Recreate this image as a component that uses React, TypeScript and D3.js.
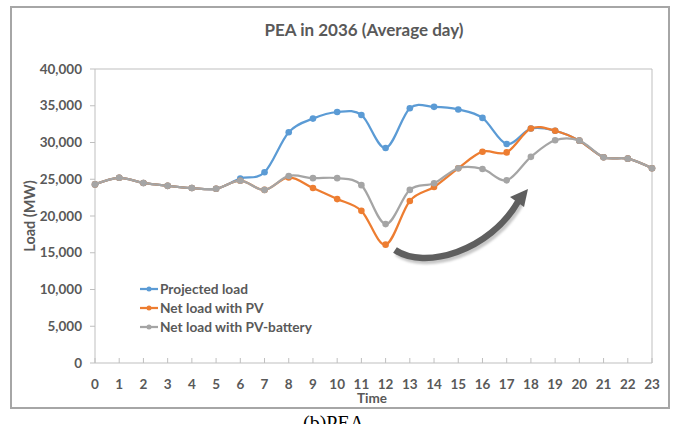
import * as d3 from "d3";

const hours = d3.range(0, 24);
const yTicks = [0, 5000, 10000, 15000, 20000, 25000, 30000, 35000, 40000];

const projectedLoad = [24300, 25200, 24500, 24100, 23800, 23700, 25100, 25950, 31400, 33250, 34150, 33750, 29250, 34650, 34850, 34500, 33350, 29800, 31900, 31600, 30250, 28000, 27800, 26500];
const netLoadPV = [24300, 25200, 24500, 24100, 23800, 23700, 24800, 23550, 25250, 23800, 22300, 20700, 16100, 22050, 23950, 26500, 28750, 28650, 31900, 31600, 30250, 28000, 27800, 26500];
const netLoadPVBattery = [24300, 25200, 24500, 24100, 23800, 23700, 24800, 23550, 25450, 25150, 25150, 24200, 18900, 23550, 24450, 26500, 26400, 24850, 28050, 30300, 30250, 28000, 27800, 26500];

const seriesNames = ["Projected load", "Net load with PV", "Net load with PV-battery"];
const seriesColors = ["#5b9bd5", "#ed7d31", "#a5a5a5"];
const seriesValues = [projectedLoad, netLoadPV, netLoadPVBattery];

const width = 675;
const height = 424;
const plot = { left: 95, right: 652, top: 69, bottom: 363 };
const font = "Lato, 'Liberation Sans', sans-serif";
const textColor = "#595959";

export default function App() {
  const x = d3.scaleLinear().domain([0, 23]).range([plot.left, plot.right]);
  const y = d3.scaleLinear().domain([0, 40000]).range([plot.bottom, plot.top]);

  const line = d3
    .line<number>()
    .x((_, i) => x(hours[i]))
    .y((d) => y(d))
    .curve(d3.curveCardinal.tension(0));

  // curved arrow (annotation)
  const arrowPath = "M 395 250 C 424 270, 490 252, 519 200";

  return (
    <svg
      width={width}
      height={height}
      style={{ position: "absolute", left: 0, top: 0, background: "#fff" }}
      fontFamily={font}
    >
      <defs>
        <filter id="blur1" x="-20%" y="-20%" width="140%" height="140%">
          <feGaussianBlur stdDeviation="1.2" />
        </filter>
      </defs>

      {/* outer chart frame */}
      <rect x={11} y={7} width={658} height={401} fill="#fff" stroke="#a6a6a6" strokeWidth={2} />

      <text x={364} y={36} textAnchor="middle" fontSize={17} fontWeight={700} fill={textColor}>
        PEA in 2036 (Average day)
      </text>

      {/* plot area border */}
      <line x1={plot.left} x2={plot.right} y1={plot.top} y2={plot.top} stroke="#bfbfbf" />
      <line x1={plot.right} x2={plot.right} y1={plot.top} y2={plot.bottom} stroke="#bfbfbf" />
      <line x1={plot.left} x2={plot.left} y1={plot.top} y2={plot.bottom} stroke="#bfbfbf" />
      <line x1={plot.left} x2={plot.right} y1={plot.bottom} y2={plot.bottom} stroke="#bfbfbf" />

      {yTicks.map((t) => (
        <g key={t}>
          <line x1={plot.left - 5} x2={plot.left} y1={y(t)} y2={y(t)} stroke="#bfbfbf" />
          <text x={82} y={y(t)} dy="0.35em" textAnchor="end" fontSize={13.5} fontWeight={700} fill={textColor}>
            {d3.format(",")(t)}
          </text>
        </g>
      ))}

      {hours.map((h) => (
        <g key={h}>
          <line x1={x(h)} x2={x(h)} y1={plot.bottom - 5} y2={plot.bottom} stroke="#bfbfbf" />
          <text x={x(h)} y={389} textAnchor="middle" fontSize={13.5} fontWeight={700} fill={textColor}>
            {h}
          </text>
        </g>
      ))}

      <text x={372} y={403} textAnchor="middle" fontSize={13.5} fontWeight={700} fill={textColor}>
        Time
      </text>
      <text
        transform={`translate(35, ${(plot.top + plot.bottom) / 2}) rotate(-90)`}
        textAnchor="middle"
        fontSize={14.5}
        fontWeight={700}
        fill={textColor}
      >
        Load (MW)
      </text>

      {seriesValues.map((vals, s) => (
        <g key={seriesNames[s]}>
          <path d={line(vals) ?? ""} fill="none" stroke={seriesColors[s]} strokeWidth={2.25} />
          {vals.map((v, i) => (
            <circle key={i} cx={x(hours[i])} cy={y(v)} r={3.3} fill={seriesColors[s]} />
          ))}
        </g>
      ))}

      {/* legend */}
      {seriesNames.map((name, s) => {
        const ly = 289 + s * 19;
        return (
          <g key={name}>
            <line x1={140} x2={158} y1={ly} y2={ly} stroke={seriesColors[s]} strokeWidth={2.25} />
            <circle cx={149} cy={ly} r={2.5} fill={seriesColors[s]} />
            <text x={160} y={ly} dy="0.35em" fontSize={13.7} fontWeight={700} fill={textColor}>
              {name}
            </text>
          </g>
        );
      })}

      {/* annotation arrow */}
      <g>
        <path d={arrowPath} transform="translate(2,3)" fill="none" stroke="#c8c8c8" strokeWidth={6.5} filter="url(#blur1)" />
        <path d={arrowPath} fill="none" stroke="#5f5f5f" strokeWidth={6.5} />
        <polygon points="528,189 510,197 524,207" fill="#5f5f5f" />
      </g>

      <text x={303} y={430} fontFamily="'Liberation Serif', 'DejaVu Serif', serif" fontSize={20} fill="#000">
        (b)PEA
      </text>
    </svg>
  );
}
